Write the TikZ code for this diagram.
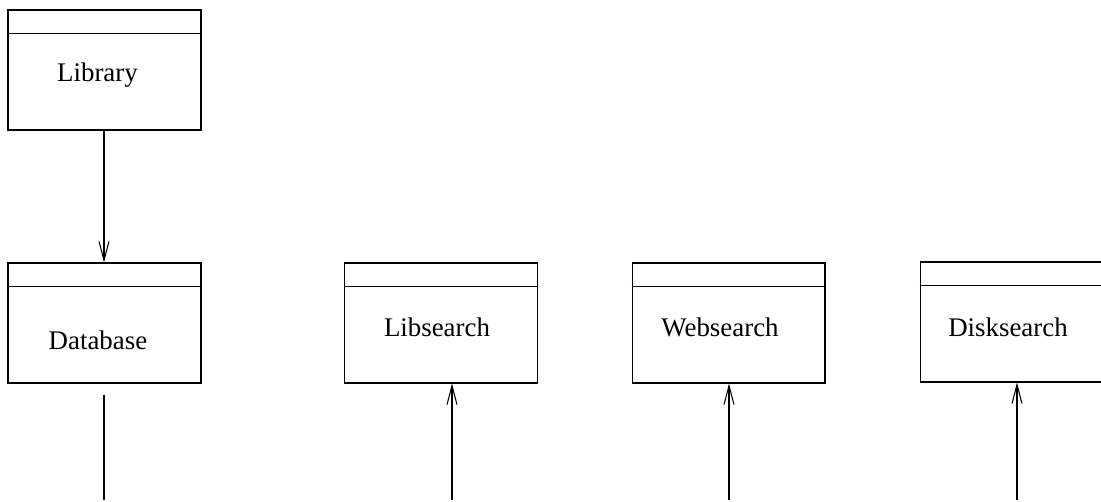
\documentclass[tikz,border=0pt]{standalone}
\usepackage{fontspec}
\setmainfont{Liberation Serif}
\usetikzlibrary{arrows.meta}
\tikzset{
  pkgbox/.style={draw, line width=0.6pt, minimum width=3.86cm, minimum height=2.4cm, inner sep=0pt},
  pkglabel/.style={font=\fontsize{15.3}{18}\selectfont, inner sep=0pt},
  dep/.style={line width=0.6pt, -{Straight Barb[length=0.38cm,width=0.2cm]}}
}
\begin{document}
\begin{tikzpicture}[x=0.02cm, y=-0.02cm]
\clip (0,0) rectangle (1101,502);
\node[pkgbox] (library) at (104.5,70) {}; % Library
\node[pkgbox] (database) at (104.5,323) {}; % Database
\node[pkgbox] (libsearch) at (441,323) {}; % Libsearch
\node[pkgbox] (websearch) at (728.5,323) {}; % Websearch
\node[pkgbox] (disksearch) at (1016.5,322) {}; % Disksearch
\foreach \b in {library, database, libsearch, websearch, disksearch}
  \draw[line width=0.6pt] ([yshift=-0.48cm]\b.north west) -- ([yshift=-0.48cm]\b.north east); % header
\node[pkglabel] (librarytxt) at (97.5,75) {Library};
\node[pkglabel] (databasetxt) at (98,340) {Database};
\node[pkglabel] (libsearchtxt) at (437,327) {Libsearch};
\node[pkglabel] (websearchtxt) at (720,327) {Websearch};
\node[pkglabel] (disksearchtxt) at (1008,327) {Disksearch};
\coordinate (dbend) at (104,500);
\coordinate (libend) at (452,500);
\coordinate (webend) at (729,500);
\coordinate (diskend) at (1017,500);
\draw[dep] ([xshift=-0.01cm]library.south) -- ([xshift=-0.01cm]database.north);
\draw[line width=0.6pt] ([yshift=-0.22cm]database.south -| dbend) -- (dbend);
\draw[dep] (libend) -- (libend |- libsearch.south);
\draw[dep] (webend) -- (webend |- websearch.south);
\draw[dep] (diskend) -- (diskend |- disksearch.south);
\end{tikzpicture}
\end{document}
